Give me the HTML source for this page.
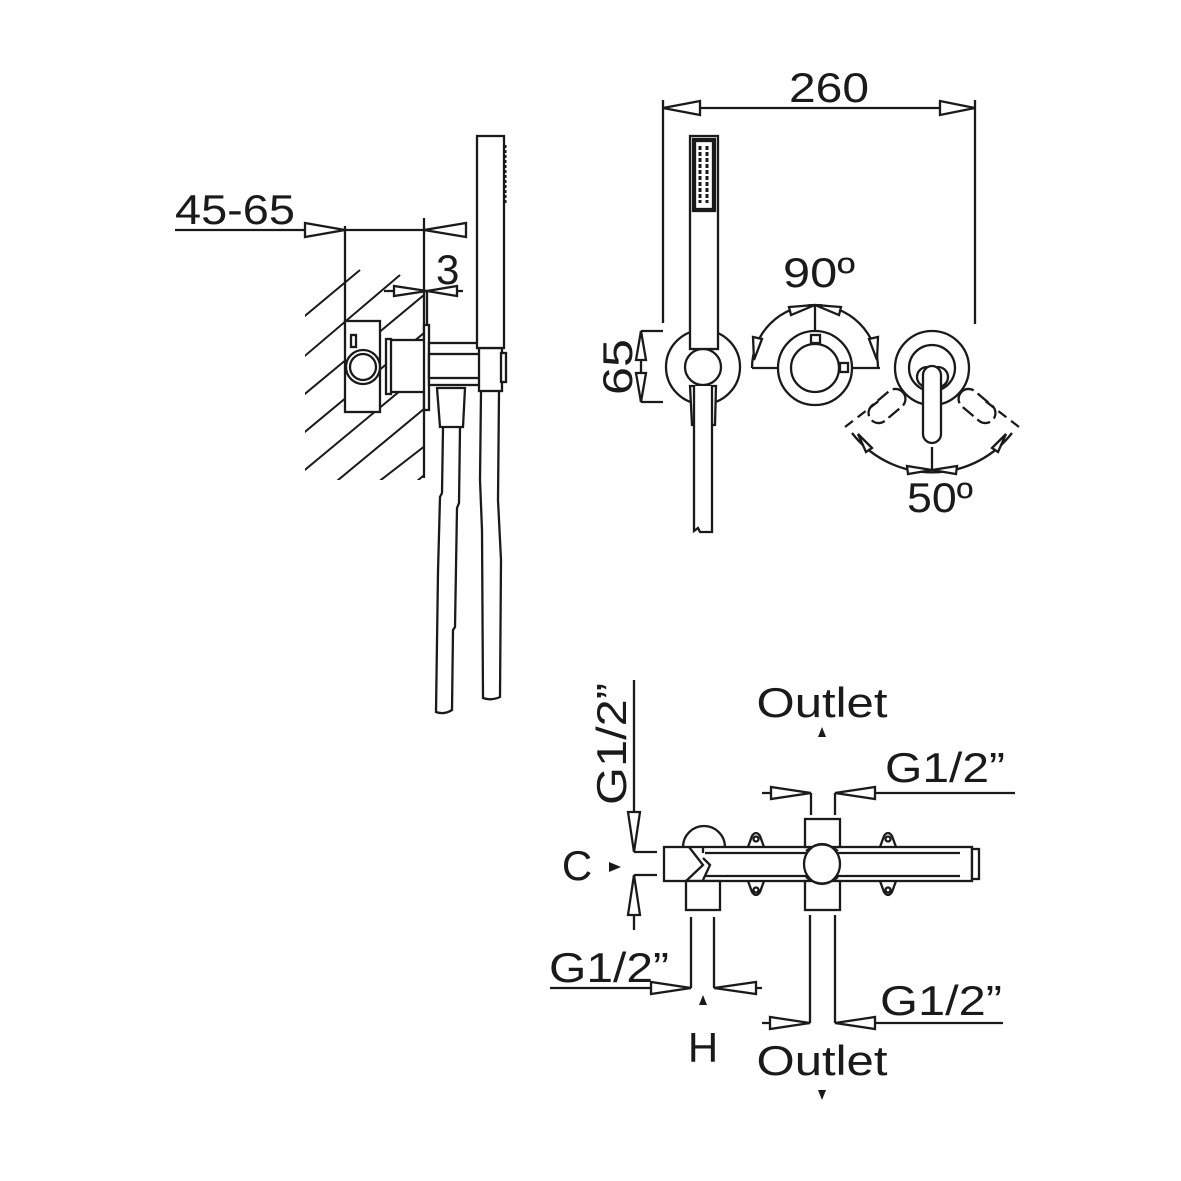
<!DOCTYPE html>
<html><head><meta charset="utf-8"><style>
html,body{margin:0;padding:0;background:#fff;}
svg{display:block;}
text{font-family:"Liberation Sans",sans-serif;fill:#1a1a1a;}
</style></head><body>
<svg width="1181" height="1181" viewBox="0 0 1181 1181" xmlns="http://www.w3.org/2000/svg">
<defs>
<clipPath id="hc"><rect x="305" y="265" width="119" height="215"/></clipPath>
</defs>
<g fill="none" stroke="#1a1a1a" stroke-width="2.3">

<!-- ===== LEFT SIDE VIEW ===== -->
<text x="175" y="224" font-size="42" stroke="none" textLength="120" lengthAdjust="spacingAndGlyphs">45-65</text>
<line x1="175" y1="230" x2="466" y2="230"/>
<polygon points="305,223 305,237 345,230" fill="#fff"/>
<polygon points="466,223 466,237 424,230" fill="#fff"/>
<line x1="345" y1="226" x2="345" y2="325"/>
<line x1="424" y1="218" x2="424" y2="478"/>
<text x="436" y="284" font-size="42" stroke="none">3</text>
<line x1="384" y1="291" x2="463" y2="291"/>
<polygon points="394,286 394,296 427,291" fill="#fff"/>
<polygon points="457,286 457,296 427,291" fill="#fff"/>
<line x1="427" y1="291" x2="427" y2="326"/>
<!-- hatching -->
<g clip-path="url(#hc)" stroke-width="2">
<line x1="300" y1="320" x2="360" y2="270"/>
<line x1="300" y1="360" x2="400" y2="275"/>
<line x1="300" y1="398" x2="430" y2="290"/>
<line x1="300" y1="436" x2="430" y2="328"/>
<line x1="300" y1="474" x2="430" y2="366"/>
<line x1="320" y1="495" x2="430" y2="404"/>
<line x1="355" y1="500" x2="430" y2="442"/>
<line x1="395" y1="500" x2="430" y2="470"/>
</g>
<!-- body -->
<rect x="345" y="321" width="35" height="91" fill="#fff"/>
<rect x="351" y="335" width="5" height="12" fill="#fff"/>
<circle cx="363" cy="367" r="17" fill="#fff"/>
<circle cx="363" cy="367" r="13"/>
<rect x="388" y="340" width="37" height="52" fill="#fff"/>
<rect x="386" y="339" width="5" height="55" fill="#fff"/>
<rect x="424" y="325" width="5" height="85" fill="#fff"/>
<rect x="429" y="343" width="52" height="42" fill="#fff"/>
<rect x="429" y="354" width="52" height="24" fill="#fff"/>
<rect x="479" y="348" width="23" height="43" fill="#fff"/>
<rect x="501" y="353" width="5" height="29" fill="#fff"/>
<!-- handshower side -->
<rect x="477" y="136" width="27" height="212" fill="#fff"/>
<line x1="505" y1="145" x2="505" y2="203" stroke-width="3" stroke-dasharray="3,2"/>
<!-- hose nut -->
<polygon points="437,388 465,388 463,427 440,427" fill="#fff"/>
<!-- hoses -->
<path d="M443,428 L442,493 L440,497 L438,572 L436,712 Q444,715 452,710 L453,630 L455,627 L457,508 L459,503 L460,428"/>
<path d="M481,392 L480,480 L482,530 L483,698 Q491,701 500,697 L501,560 L498,500 L499,392"/>

<!-- ===== FRONT VIEW (top right) ===== -->
<text x="829" y="102" font-size="42" stroke="none" text-anchor="middle" textLength="80" lengthAdjust="spacingAndGlyphs">260</text>
<line x1="663" y1="108" x2="975" y2="108"/>
<polygon points="663,108 700,101 700,115" fill="#fff"/>
<polygon points="975,108 940,101 940,115" fill="#fff"/>
<line x1="663" y1="100" x2="663" y2="323"/>
<line x1="975" y1="100" x2="975" y2="324"/>
<!-- 65 -->
<text transform="translate(632,367) rotate(-90)" font-size="42" stroke="none" text-anchor="middle" textLength="56" lengthAdjust="spacingAndGlyphs">65</text>
<line x1="641" y1="331" x2="641" y2="402"/>
<line x1="641" y1="331" x2="663" y2="331"/>
<line x1="641" y1="402" x2="663" y2="402"/>
<polygon points="641,331 636,360 646,360" fill="#fff"/>
<polygon points="641,402 636,373 646,373" fill="#fff"/>
<!-- shower holder -->
<circle cx="703" cy="367" r="37"/>
<circle cx="703" cy="367" r="18" fill="#fff"/>
<rect x="690" y="136" width="28" height="213" fill="#fff"/>
<rect x="693" y="139" width="22" height="72"/>
<rect x="695" y="141" width="18" height="68"/>
<g stroke-width="3" stroke-dasharray="4,2">
<line x1="700" y1="146" x2="700" y2="203"/>
<line x1="707" y1="146" x2="707" y2="203"/>
</g>
<polygon points="690,386 716,386 715,425 692,425" fill="#fff"/>
<path d="M694,386 L694,531 L698,528 L700,532 L712,532 L712,386" fill="#fff"/>
<!-- 90 -->
<text x="819" y="287" font-size="42" stroke="none" text-anchor="middle" textLength="72" lengthAdjust="spacingAndGlyphs">90º</text>
<path d="M752,368 A63,63 0 0 1 878,368"/>
<line x1="752" y1="368" x2="880" y2="368"/>
<line x1="815" y1="304" x2="815" y2="335"/>
<circle cx="815" cy="368" r="37" fill="#fff"/>
<circle cx="815" cy="368" r="24"/>
<rect x="811" y="335" width="9" height="8"/>
<rect x="840" y="363" width="8" height="9"/>
<polygon points="815,305 789,307 791,315" fill="#fff"/>
<polygon points="815,305 841,307 839,315" fill="#fff"/>
<polygon points="754,360 753,337 762,339" fill="#fff"/>
<polygon points="877,360 878,337 869,339" fill="#fff"/>
<!-- 50 -->
<circle cx="932" cy="368" r="37"/>
<circle cx="932" cy="368" r="23"/>
<path d="M852,433 A101,101 0 0 0 1012,433"/>
<line x1="845" y1="427" x2="880" y2="400" stroke-dasharray="10,6"/>
<line x1="1019" y1="427" x2="984" y2="400" stroke-dasharray="10,6"/>
<line x1="932" y1="447" x2="932" y2="470"/>
<g stroke-dasharray="14,5">
<rect x="877" y="385" width="20" height="42" rx="10" transform="rotate(50 887 406)"/>
<rect x="967" y="385" width="20" height="42" rx="10" transform="rotate(-50 977 406)"/>
</g>
<circle cx="927" cy="377" r="10" fill="#fff"/>
<circle cx="938" cy="377" r="10" fill="#fff"/>
<rect x="923" y="366" width="18" height="77" rx="9" fill="#fff"/>
<polygon points="932,470 907,466 908,474" fill="#fff"/>
<polygon points="932,470 957,466 956,474" fill="#fff"/>
<polygon points="858,434 872,448 866,452" fill="#fff"/>
<polygon points="1006,434 992,448 998,452" fill="#fff"/>
<text x="940" y="512" font-size="42" stroke="none" text-anchor="middle" textLength="66" lengthAdjust="spacingAndGlyphs">50º</text>

<!-- ===== BOTTOM VIEW ===== -->
<text x="822" y="717" font-size="42" stroke="none" text-anchor="middle" textLength="131" lengthAdjust="spacingAndGlyphs">Outlet</text>
<polygon points="822,727 818,737 826,737" fill="#1a1a1a" stroke="none"/>
<text x="885" y="782" font-size="42" stroke="none" textLength="120" lengthAdjust="spacingAndGlyphs">G1/2”</text>
<line x1="762" y1="793" x2="811" y2="793"/>
<line x1="835" y1="793" x2="1015" y2="793"/>
<line x1="811" y1="793" x2="811" y2="815"/>
<line x1="835" y1="793" x2="835" y2="815"/>
<polygon points="811,793 771,787 771,799" fill="#fff"/>
<polygon points="835,793 875,787 875,799" fill="#fff"/>
<!-- left C -->
<text transform="translate(626,744) rotate(-90)" font-size="42" stroke="none" text-anchor="middle" textLength="122" lengthAdjust="spacingAndGlyphs">G1/2”</text>
<line x1="634" y1="680" x2="634" y2="852"/>
<line x1="634" y1="852" x2="657" y2="852"/>
<line x1="634" y1="875" x2="657" y2="875"/>
<line x1="634" y1="875" x2="634" y2="930"/>
<polygon points="634,852 628,812 640,812" fill="#fff"/>
<polygon points="634,875 628,915 640,915" fill="#fff"/>
<text x="577" y="880" font-size="42" stroke="none" text-anchor="middle">C</text>
<polygon points="621,867 609,862 609,872" fill="#1a1a1a" stroke="none"/>
<!-- body -->
<path d="M683,847 A21,21 0 0 1 725,847"/>
<rect x="664" y="847" width="308" height="34" fill="#fff"/>
<rect x="972" y="849" width="7" height="30" fill="#fff"/>
<line x1="705" y1="853" x2="960" y2="853"/>
<line x1="705" y1="876" x2="960" y2="876"/>
<line x1="703" y1="847" x2="703" y2="853"/>
<polyline points="689,847 703,865 685,882"/>
<polyline points="703,858 710,865 703,880"/>
<rect x="686" y="881" width="34" height="29" fill="#fff"/>
<rect x="805" y="819" width="35" height="28" fill="#fff"/>
<rect x="805" y="881" width="35" height="29" fill="#fff"/>
<ellipse cx="822" cy="864" rx="18" ry="20" fill="#fff"/>
<path d="M806,851 Q822,838 838,851 M806,877 Q822,890 838,877"/>
<!-- ears -->
<path d="M748,847 L752,836 Q756,830 760,836 L764,847"/>
<circle cx="756" cy="839" r="2.5"/>
<path d="M748,881 L752,892 Q756,898 760,892 L764,881"/>
<circle cx="756" cy="890" r="2.5"/>
<path d="M880,847 L884,836 Q888,830 892,836 L896,847"/>
<circle cx="888" cy="839" r="2.5"/>
<path d="M880,881 L884,892 Q888,898 892,892 L896,881"/>
<circle cx="888" cy="890" r="2.5"/>
<!-- H -->
<line x1="691" y1="917" x2="691" y2="988"/>
<line x1="714" y1="917" x2="714" y2="988"/>
<line x1="550" y1="988" x2="691" y2="988"/>
<line x1="714" y1="988" x2="762" y2="988"/>
<polygon points="691,988 651,982 651,994" fill="#fff"/>
<polygon points="714,988 756,982 756,994" fill="#fff"/>
<text x="549" y="982" font-size="42" stroke="none" textLength="120" lengthAdjust="spacingAndGlyphs">G1/2”</text>
<polygon points="703,995 699,1005 707,1005" fill="#1a1a1a" stroke="none"/>
<text x="703" y="1062" font-size="42" stroke="none" text-anchor="middle">H</text>
<!-- bottom outlet -->
<line x1="810" y1="915" x2="810" y2="1023"/>
<line x1="835" y1="915" x2="835" y2="1023"/>
<line x1="762" y1="1023" x2="810" y2="1023"/>
<line x1="835" y1="1023" x2="1003" y2="1023"/>
<polygon points="810,1023 770,1017 770,1029" fill="#fff"/>
<polygon points="835,1023 875,1017 875,1029" fill="#fff"/>
<text x="880" y="1015" font-size="42" stroke="none" textLength="122" lengthAdjust="spacingAndGlyphs">G1/2”</text>
<text x="822" y="1075" font-size="42" stroke="none" text-anchor="middle" textLength="131" lengthAdjust="spacingAndGlyphs">Outlet</text>
<polygon points="822,1100 818,1090 826,1090" fill="#1a1a1a" stroke="none"/>
</g>
</svg>
</body></html>
